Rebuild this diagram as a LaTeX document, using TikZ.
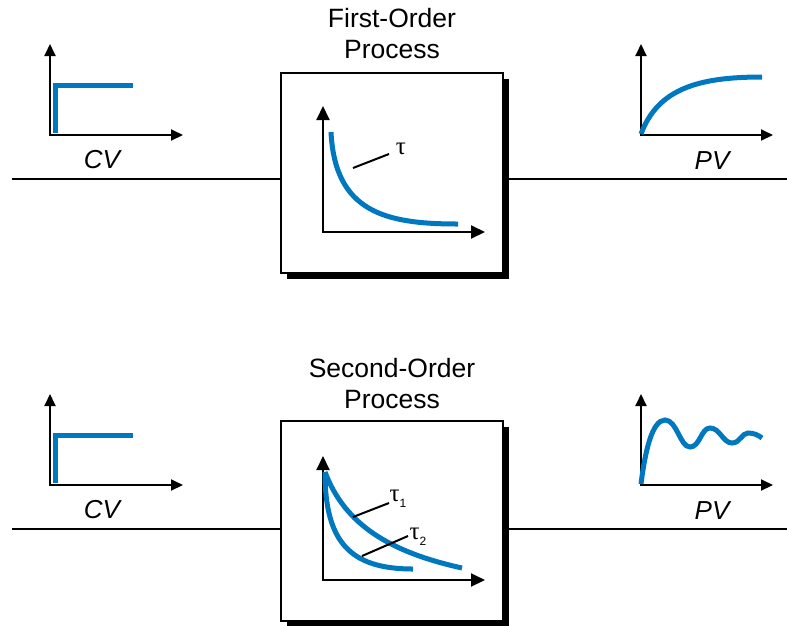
\documentclass[tikz,border=0pt]{standalone}
\usepackage{fontspec}
\setmainfont{Liberation Sans}
\newfontfamily\greekfont{Liberation Serif}
\usetikzlibrary{arrows.meta,shadows}
\definecolor{curveblue}{RGB}{0,120,192}
\tikzset{
  lbl/.style={font=\fontsize{26}{30}\selectfont\itshape, inner sep=0pt},
  ttl/.style={font=\fontsize{26.5}{31}\selectfont, align=center, inner sep=0pt},
  tau/.style={font=\fontsize{25}{28}\selectfont\greekfont, inner sep=0pt},
  sig/.style={line width=2pt, black},
  axis/.style={line width=2pt, black, {Triangle[length=12pt,width=11pt]}-{Triangle[length=12pt,width=11pt]}},
  inaxis/.style={line width=2pt, black, {Triangle[length=14pt,width=13pt]}-{Triangle[length=14pt,width=13pt]}},
  curve/.style={line width=5pt, curveblue},
  leader/.style={line width=2pt, black},
  procbox/.style={draw=black, line width=2pt, fill=white, minimum width=222pt, minimum height=200pt, inner sep=0pt,
    drop shadow={shadow xshift=6pt, shadow yshift=-6pt, opacity=1, fill=black}},
}
\newcommand{\tausub}[1]{τ\raisebox{-6pt}{\fontsize{12}{14}\selectfont\rmfamily #1}}
\begin{document}
\begin{tikzpicture}[x=1pt,y=-1pt]
\useasboundingbox (0,0) rectangle (787,625);
% ---------- First-order ----------
\node[procbox] (b1) at (392,173) {};
\node[ttl] (t1) at (392,34) {First-Order\\Process};
\coordinate (l1) at (12,179);
\coordinate (r1) at (787,179);
\draw[sig] (l1) -- (l1 -| b1.west);
\draw[sig] (b1.east |- r1) -- (r1);
% inner graph
\coordinate (o1) at (323,232);
\coordinate (ty1) at (323,106);
\coordinate (tx1) at (485,232);
\draw[inaxis] (ty1) -- (o1) -- (tx1);
\draw[curve] (331,132) .. controls (335,212) and (385,224) .. (458,224);
\coordinate (ld1a) at (353,168);
\coordinate (ld1b) at (389,154);
\draw[leader] (ld1a) -- (ld1b);
\node[tau] (tau) at (401,149) {τ};
% CV graph
\coordinate (co1) at (50,135);
\draw[axis] (50,44) -- (co1) -- (183,135);
\draw[curve] (55,133) -- (55,85) -- (133,85);
\node[lbl] (cv1) at (102,160) {CV};
% PV graph
\coordinate (po1) at (641,135);
\draw[axis] (641,44) -- (po1) -- (773,135);
\draw[curve] (641,134) .. controls (658,88) and (700,77) .. (762,77);
\node[lbl] (pv1) at (712,161) {PV};
% ---------- Second-order ----------
\node[procbox] (b2) at (392,521) {};
\node[ttl] (t2) at (392,384) {Second-Order\\Process};
\coordinate (l2) at (12,529);
\coordinate (r2) at (787,529);
\draw[sig] (l2) -- (l2 -| b2.west);
\draw[sig] (b2.east |- r2) -- (r2);
\coordinate (o2) at (323,580);
\draw[inaxis] (323,456) -- (o2) -- (485,580);
\draw[curve] (325,472) .. controls (345,525) and (390,552) .. (462,568);
\draw[curve] (325,472) .. controls (325,542) and (350,569) .. (413,569);
\draw[leader] (353,517) -- (389,503);
\node[tau] (tau1) at (398,499) {\tausub{1}};
\draw[leader] (362,556) -- (408,536);
\node[tau] (tau2) at (418,537) {\tausub{2}};
% CV graph
\draw[axis] (50,394) -- (50,485) -- (183,485);
\draw[curve] (55,483) -- (55,435) -- (133,435);
\node[lbl] (cv2) at (102,510) {CV};
% PV graph
\draw[axis] (641,394) -- (641,485) -- (773,485);
\draw[curve] (641,484) .. controls (645,452) and (652,420) .. (665,420)
  .. controls (677,420) and (680,447) .. (690,447)
  .. controls (700,447) and (701,428) .. (710,428)
  .. controls (720,428) and (723,443) .. (732,443)
  .. controls (740,443) and (742,433) .. (748,433)
  .. controls (754,433) and (758,435) .. (762,438);
\node[lbl] (pv2) at (712,511) {PV};
\end{tikzpicture}
\end{document}
